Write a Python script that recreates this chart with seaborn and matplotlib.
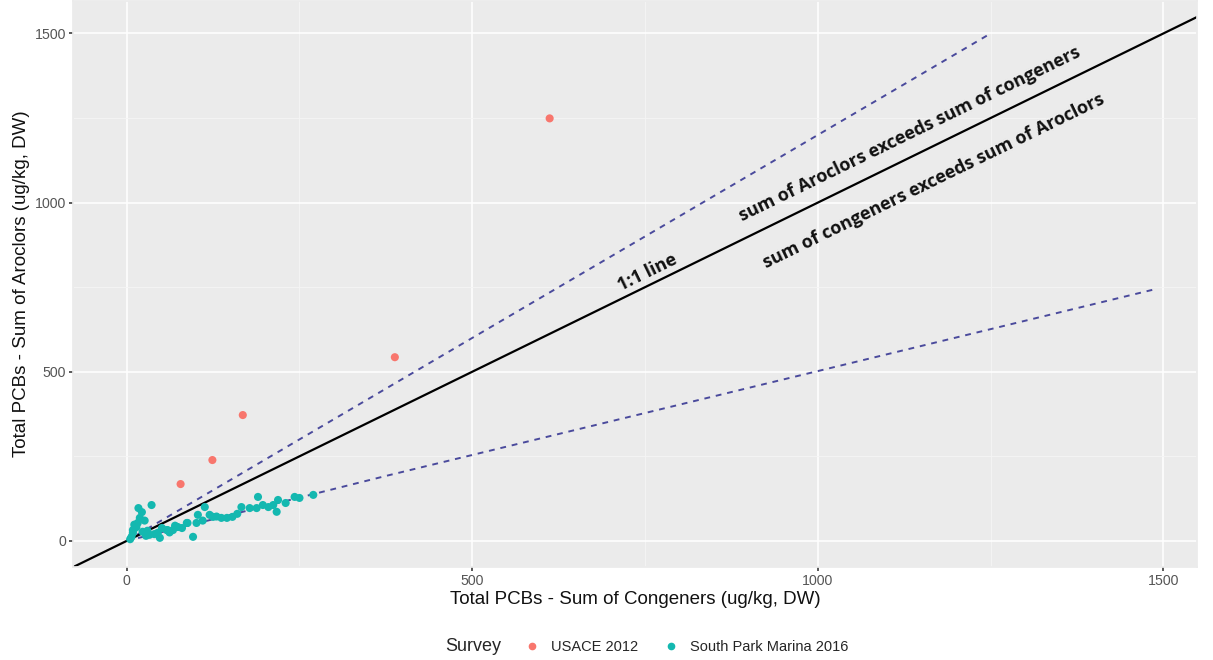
import matplotlib
matplotlib.use("Agg")
import matplotlib.pyplot as plt
from matplotlib.offsetbox import HPacker
import seaborn as sns
import pandas as pd

# USACE 2012 samples (congeners, aroclors)
usace_x = [78, 124, 168, 388, 612]
usace_y = [168, 239, 372, 543, 1249]

# South Park Marina 2016 samples
spm_x = [17, 36, 19, 16, 12, 9, 7, 23, 33, 45, 51, 59, 67, 74, 87, 96, 101, 103,
         113, 120, 125, 137, 145, 153, 166, 178, 188, 190, 197, 212, 217, 219,
         243, 250, 270, 14, 22, 9, 30, 58, 80, 88, 48, 40, 70, 110, 160, 205,
         26, 5, 11, 28, 62, 130, 230]
spm_y = [97, 106, 68, 53, 38, 24, 12, 27, 18, 24, 38, 32, 32, 41, 53, 12, 53, 77,
         100, 77, 71, 68, 68, 71, 100, 97, 97, 130, 106, 106, 86, 121,
         130, 127, 136, 41, 85, 32, 30, 32, 38, 53, 9, 20, 45, 60, 80, 100,
         60, 5, 48, 15, 25, 72, 112]

# reference lines
upper_x = [0, 1245]
upper_y = [0, 1494]
lower_x = [0, 375, 1490]
lower_y = [0, 192, 745]

surveys = ["USACE 2012", "South Park Marina 2016"]
colors = ["#F8766D", "#14B8B0"]

df = pd.DataFrame({
    "congeners": usace_x + spm_x,
    "aroclors": usace_y + spm_y,
    "Survey": [surveys[0]] * len(usace_x) + [surveys[1]] * len(spm_x),
})

sns.set_theme(style="darkgrid", rc={
    "axes.facecolor": "#EBEBEB",
    "grid.color": "white",
    "axes.edgecolor": "#EBEBEB",
})
plt.rcParams["font.family"] = ["Liberation Sans", "DejaVu Sans"]

fig = plt.figure(figsize=(12.13, 6.6), dpi=100)
ax = fig.add_axes([0.060, 0.141, 0.927, 0.858])

ax.plot(upper_x, upper_y, ls=(0, (3, 3)), color="#4A4A9C", lw=1.4, zorder=2)
ax.plot(lower_x, lower_y, ls=(0, (3, 3)), color="#4A4A9C", lw=1.4, zorder=2)
ax.axline((0, 0), slope=1, color="black", lw=1.6, zorder=2)

sns.scatterplot(data=df, x="congeners", y="aroclors", hue="Survey",
                hue_order=surveys, palette=colors, s=34, edgecolor="none",
                ax=ax, zorder=3)

ax.set_xlim(-78, 1549)
ax.set_ylim(-77, 1597)
ax.set_xticks([0, 500, 1000, 1500])
ax.set_yticks([0, 500, 1000, 1500])
ax.set_xticks([250, 750, 1250], minor=True)
ax.set_yticks([250, 750, 1250], minor=True)
ax.grid(which="major", color="white", lw=1.1)
ax.grid(which="minor", color="#F5F5F5", lw=0.6)
ax.tick_params(axis="both", which="major", length=3, color="#444444",
               labelsize=10.2, labelcolor="#555555", pad=2,
               bottom=True, left=True)
ax.tick_params(which="minor", length=0)
ax.set_xlabel("Total PCBs - Sum of Congeners (ug/kg, DW)", fontsize=13.5,
              labelpad=2, color="#111111")
ax.set_ylabel("Total PCBs - Sum of Aroclors (ug/kg, DW)", fontsize=13.5,
              labelpad=3, color="#111111")

# annotations along the 1:1 line
tfont = dict(family=["Open Sans", "DejaVu Sans"], fontweight="bold",
             fontsize=13, rotation=26, rotation_mode="anchor",
             ha="center", va="center", color="#111111")
ax.text(754, 794, "1:1 line", **tfont)
ax.text(1133, 1203, "sum of Aroclors exceeds sum of congeners", **tfont)
ax.text(1167, 1064, "sum of congeners exceeds sum of Aroclors", **tfont)

ax.get_legend().remove()
handles = [plt.Line2D([], [], marker="o", ls="", color=c, markersize=4.5)
           for c in colors]
leg = fig.legend(handles, surveys, title="Survey", loc="center",
                 bbox_to_anchor=(0.533, 0.02), ncol=2, frameon=False,
                 fontsize=10.5, title_fontsize=13, handletextpad=0.3,
                 columnspacing=1.2)
# title to the left of the entries, ggplot style
leg._legend_box._children = [HPacker(pad=0, sep=12, align="center",
                                     children=[leg._legend_title_box,
                                               leg._legend_handle_box])]

fig.savefig("out.png", dpi=100)
